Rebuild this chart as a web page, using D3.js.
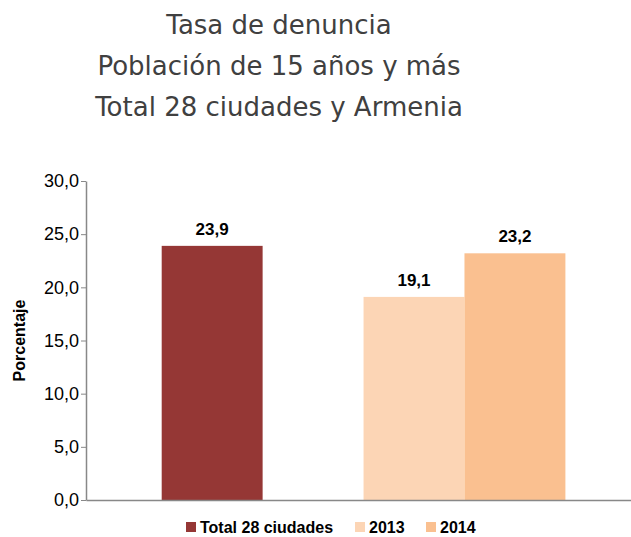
<!DOCTYPE html>
<html>
<head>
<meta charset="utf-8">
<script src="https://cdn.jsdelivr.net/npm/d3@7"></script>
<style>
  body { margin: 0; background: #fff; }
  svg { display: block; font-family: "Liberation Sans", Arial, sans-serif; }
</style>
</head>
<body>
<svg id="canvas"></svg>
<script>
// data
const titleLines = ["Tasa de denuncia", "Población de 15 años y más", "Total 28 ciudades y Armenia"];
const groups = ["Total 28 ciudades", "Armenia"];
const series = ["Total 28 ciudades", "2013", "2014"];
const seriesGroup = ["Total 28 ciudades", "Armenia", "Armenia"];
const values = [23.9, 19.1, 23.2];
const colors = ["#953735", "#fcd5b5", "#fac090"];
const yTicks = [0, 5, 10, 15, 20, 25, 30];

const width = 631;
const height = 537;
const margin = { top: 181, right: 0, bottom: 37, left: 86 };

const svg = d3.select("#canvas")
  .attr("width", width)
  .attr("height", height);

const chartWidth = width - margin.left - margin.right;
const chartHeight = height - margin.top - margin.bottom;

const chartArea = svg.append("g")
  .attr("transform", `translate(${margin.left},${margin.top})`);

// title
svg.append("text")
  .attr("x", 279)
  .attr("y", 34)
  .attr("text-anchor", "middle")
  .style("font-family", "'DejaVu Sans', sans-serif")
  .style("font-size", "26px")
  .attr("fill", "#404040")
  .selectAll("tspan")
  .data(titleLines)
  .enter().append("tspan")
    .attr("x", 279)
    .attr("y", (d, i) => 34 + i * 41)
    .text(d => d);

const x = d3.scaleBand()
  .domain(groups)
  .range([0, chartWidth])
  .paddingInner(0)
  .paddingOuter(0.08)
  .align(0);

const barW = x.bandwidth() * 0.4;

const y = d3.scaleLinear()
  .domain([0, 30])
  .range([chartHeight, 0]);

// bars: position each bar inside its group
const bars = series.map((s, i) => {
  const g = seriesGroup[i];
  const inGroup = series.filter((_, j) => seriesGroup[j] === g);
  const k = inGroup.indexOf(s);
  const start = x(g) + x.bandwidth() / 2 - inGroup.length * barW / 2;
  return { name: s, value: values[i], color: colors[i], x: start + k * barW };
});

chartArea.selectAll(".bar")
  .data(bars)
  .enter().append("rect")
    .attr("class", "bar")
    .attr("x", d => d.x)
    .attr("y", d => y(d.value))
    .attr("width", barW)
    .attr("height", d => chartHeight - y(d.value))
    .attr("fill", d => d.color);

chartArea.selectAll(".label")
  .data(bars)
  .enter().append("text")
    .attr("class", "label")
    .attr("x", d => d.x + barW / 2)
    .attr("y", d => y(d.value) - 11)
    .attr("text-anchor", "middle")
    .style("font-size", "17px")
    .style("font-weight", "bold")
    .attr("fill", "#000")
    .text(d => d3.format(".1f")(d.value).replace(".", ","));

// axes
const fmt = d => d3.format(".1f")(d).replace(".", ",");

const yAxis = chartArea.append("g")
  .call(d3.axisLeft(y).tickValues(yTicks).tickFormat(fmt).tickSize(5).tickSizeOuter(0));
yAxis.select(".domain").attr("stroke", "#888").attr("stroke-width", 1.5);
yAxis.selectAll(".tick line").attr("stroke", "#888");
yAxis.selectAll(".tick text")
  .attr("x", -7)
  .style("font-size", "18px")
  .style("font-family", "'Liberation Sans', Arial, sans-serif")
  .attr("fill", "#000");

const xAxis = chartArea.append("g")
  .attr("transform", `translate(0,${chartHeight})`)
  .call(d3.axisBottom(x).tickSize(0).tickFormat(""));
xAxis.select(".domain").attr("stroke", "#888").attr("stroke-width", 1.5);

svg.append("text")
  .attr("transform", `translate(25,${margin.top + chartHeight / 2}) rotate(-90)`)
  .attr("text-anchor", "middle")
  .style("font-size", "16px")
  .style("font-weight", "bold")
  .attr("fill", "#000")
  .text("Porcentaje");

// legend
const legendX = [186, 355, 426];
const legend = svg.selectAll(".legend")
  .data(series)
  .enter().append("g")
    .attr("class", "legend")
    .attr("transform", (d, i) => `translate(${legendX[i]},522)`);

legend.append("rect")
  .attr("width", 10)
  .attr("height", 10)
  .attr("fill", (d, i) => colors[i]);

legend.append("text")
  .attr("x", 14)
  .attr("y", 10.5)
  .style("font-size", "16px")
  .style("font-weight", "bold")
  .attr("fill", "#000")
  .text(d => d);
</script>
</body>
</html>
